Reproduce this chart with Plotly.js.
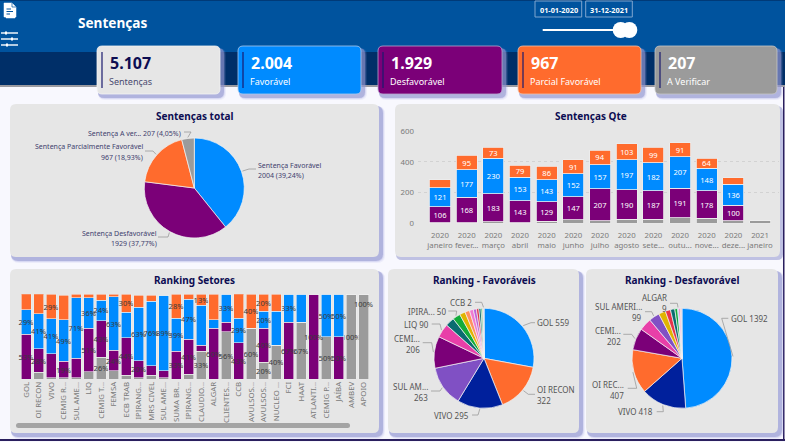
<!DOCTYPE html>
<html><head><meta charset="utf-8">
<script src="https://cdn.plot.ly/plotly-3.0.1.min.js"></script>
<style>html,body{margin:0;padding:0;background:#fff;overflow:hidden}#c{width:785px;height:442px}</style>
</head><body><div id="c"></div>
<script>
const W=785,H=442,FONT='"Noto Sans",sans-serif';
// ---------- data ----------
const cardValues=['5.107','2.004','1.929','967','207'];
const cardLabels=['Sentenças','Favorável','Desfavorável','Parcial Favorável','A Verificar'];
const totalLabels=['Sentença Favorável','Sentença Desfavorável','Sentença Parcialmente Favorável','Sentença A verificar'];
const totalValues=[2004,1929,967,207];

const months=['2020<br>janeiro','2020<br>fever...','2020<br>março','2020<br>abril','2020<br>maio','2020<br>junho','2020<br>julho','2020<br>agosto','2020<br>sete...','2020<br>outu...','2020<br>nove...','2020<br>deze...','2021<br>janeiro'];
const qtyGray=[3,2,10,2,12,24,17,27,26,36,32,18,16];
const qtyPurple=[106,168,183,143,129,147,207,190,187,191,178,100,0];
const qtyBlue=[121,177,230,153,143,152,157,197,182,207,148,136,2];
const qtyOrange=[52,95,73,79,86,91,94,103,99,91,64,42,0];
const qtyPurpleText=[106,168,183,143,129,147,207,190,187,191,178,100,''];
const qtyBlueText=[121,177,230,153,143,152,157,197,182,207,148,136,''];
const qtyOrangeText=['',95,73,79,86,91,94,103,99,91,64,'',''];

const sectors=['GOL','OI RECON','VIVO','CEMIG R...','SUL AME...','LIQ','CEMIG T...','FEMSA','ECB TRAB','IPIRANG...','MRS CIVEL','SUL AME...','SUMA BR...','IPIRANG...','CLAUDIO...','ALGAR','CLIENTES...','CCB','AVULSOS...','AVULSOS...','NUCLEO ...','FCI','HAAT','ATLANTI...','CEMIG P...','JAÍBA','AMBEV','APOIO'];
const secGray=[0,8,2,2,2,9,26,10,5,2,5,2,0,6,33,0,56,0,60,20,40,0,67,0,50,0,100,100];
const secPurple=[53,28,28,19,23,51,43,24,44,20,11,8,33,41,7,60,11,43,0,40,0,67,0,100,0,50,0,0];
const secBlue=[29,41,41,49,71,36,24,63,30,63,76,89,39,47,47,10,33,29,0,20,40,33,33,0,50,50,0,0];
const secOrange=[19,24,29,29,4,4,7,3,21,14,7,0,28,6,13,30,0,29,40,20,20,0,0,0,0,0,0,0];
const secGrayText=['','','','','','','26%','','','','','','','','33%','','56%','','60%','20%','40%','','67%','','50%','','100%',''];
const secPurpleText=['53%','28%','','19%','','51%','43%','24%','44%','20%','','','33%','41%','','60%','','43%','','40%','','67%','','100%','','50%','',''];
const secBlueText=['29%','41%','41%','49%','71%','36%','24%','63%','','63%','76%','89%','39%','47%','','','33%','29%','','20%','','33%','','','50%','50%','',''];
const secOrangeText=['19%','','29%','','','','','','30%','','','','28%','','13%','','','','40%','20%','','','','','','','',''];
const apoioLabel='100%';

const favLabels=['GOL','OI RECON','VIVO','SUL AM...','CEMI...','LIQ','b','IPIRA...','d','e','f','g','h','i','j','k','CCB','m'];
const favValues=[559,322,295,263,206,90,58,50,37,30,25,20,16,14,10,5,2,2];
const desLabels=['GOL','VIVO','OI REC...','CEMI...','e','SUL AMERI...','g','h','i','j','ALGAR','l','m','n'];
const desValues=[1392,418,407,202,115,99,64,48,40,26,9,16,9,6];
// ---------- colours ----------
const BLUE='#008bff',ORANGE='#ff6b2d',PURPLE='#7b0078',GRAY='#9b9b9b',NAVY='#0d0d52',PANEL='#e6e6e6';
const totalColors=[BLUE,PURPLE,ORANGE,GRAY];
const favColors=[BLUE,ORANGE,'#00209c','#8050c4',PURPLE,'#e83fa8','#0a6b70','#12ab3a','#e0b400','#ff9060','#f07ad0','#c060d8','#e0304a','#0f6a6a','#16b050','#ff8a30','#2fae50','#8a4fd0'];
const desColors=[BLUE,'#00209c',ORANGE,PURPLE,'#e83fa8','#8050c4','#e0b400','#e8344a','#0a6b70','#12ab3a','#18b8e0','#f07ad0','#ff9060','#b060c8'];

// ---------- pixel helpers ----------
const px=x=>x/W, py=y=>1-y/H;
const shapes=[],annotations=[];
function rect(x0,y0,x1,y1,fill,r,line,lw,op){
  r=r||0;
  const p=`M ${x0+r} ${y0} L ${x1-r} ${y0} Q ${x1} ${y0} ${x1} ${y0+r} L ${x1} ${y1-r} Q ${x1} ${y1} ${x1-r} ${y1} L ${x0+r} ${y1} Q ${x0} ${y1} ${x0} ${y1-r} L ${x0} ${y0+r} Q ${x0} ${y0} ${x0+r} ${y0} Z`;
  shapes.push({type:'path',xref:'x',yref:'y',path:p,fillcolor:fill,opacity:op==null?1:op,line:{color:line||'rgba(0,0,0,0)',width:lw||0},layer:'below'});
}
function poly(pts,color,w,layer){
  shapes.push({type:'path',xref:'x',yref:'y',path:'M '+pts.map(p=>p.join(' ')).join(' L '),line:{color,width:w},layer:layer||'above'});
}
function T(x,y,text,size,color,anchor,bold){
  annotations.push({xref:'paper',yref:'paper',x:px(x),y:py(y),text:bold?`<b>${text}</b>`:text,showarrow:false,xanchor:anchor||'left',yanchor:'middle',font:{family:FONT,size,color},align:anchor||'left',borderpad:0,borderwidth:0});
}
function shadowed(x0,y0,x1,y1,fill,r,line,strong){
  rect(x0+1,y0+2,x1+6,y1+6,'#9a9ee0',r+2,null,0,.12);
  rect(x0+1,y0+2,x1+5,y1+5,'#9a9ee0',r+2,null,0,.25);
  rect(x0+1,y0+2,x1+4,y1+4,'#9094cc',r+1,null,0,.55);
  rect(x0,y0,x1,y1,fill,r,line,line?.8:0);
}
// page background
rect(0,0,785,442,'#f8f8fe');
rect(0,0,785,52,'#00539e');
rect(0,0,785,1,'#003a78');
rect(0,52,785,85,'#002f68');
rect(0,85,785,87,'#9a9aa0');
rect(0,439,785,441,'#2a1f5e');
rect(783,87,784.5,441,'#2a1f5e');
// panels
const panels=[[10,104,379,257],[395,104,780,257],[10,269,379,433],[388,269,579,433],[586,269,778,433]];
panels.forEach((p,i)=>{
  if(i===1){rect(396,106,783,260,'#9094cc',6,null,0,.55);rect(p[0],p[1],p[2],p[3],PANEL,6);}
  else shadowed(p[0],p[1],p[2],p[3],PANEL,6);
});
// cards
const cards=[[97,220,PANEL,'#f2f2f2',NAVY,'#4a4a70'],[238,361,BLUE,'#a9c9ee','#fff','#fff'],[378,502,PURPLE,'#b9a5cf','#fff','#fff'],[518,641,ORANGE,'#f0c0a8','#fff','#fff'],[655,777,GRAY,'#c6c6c6','#fff','#fff']];
cards.forEach((c,i)=>{
  shadowed(c[0],46,c[1],94,c[2],5,c[3]);
  poly([[c[0]+5,52],[c[0]+5,88]],'#1a1a6e',1.2);
  T(c[0]+13,63.5,cardValues[i],16,c[4],'left',true);
  T(c[0]+12,81.5,cardLabels[i],9,c[5],'left');
});
// header
T(78,22,'Sentenças',13.6,'#fff','left',true);
// document icon
shapes.push({type:'path',xref:'x',yref:'y',path:'M 4 3 L 12 3 L 16 7 L 16 17 L 15 17 L 15 18 L 6 18 L 6 17 L 4 17 Z',fillcolor:'#fff',line:{color:'#fff',width:.5},layer:'above'});
[[6.5,9,11],[6.5,11.5,13],[6.5,14,10]].forEach(l=>poly([[l[0],l[1]],[l[2],l[1]]],'#00539e',1));
poly([[12,3],[12,7],[16,7]],'#00539e',.7);
// filter icon
[[33,6],[39,12],[45,7]].forEach(l=>{poly([[1,l[0]],[18,l[0]]],'#fff',1.4);poly([[l[1],l[0]-1.5],[l[1],l[0]+1.5]],'#fff',2);});
// date slider
rect(535,1,581.7,17,'rgba(0,0,0,0)',0,'#7fa6cf',1);
rect(585.7,1,632.3,17,'rgba(0,0,0,0)',0,'#7fa6cf',1);
T(558.5,10,'01-01-2020',7.3,'#fff','center',true);
T(609,10,'31-12-2021',7.3,'#fff','center',true);
poly([[542.7,30],[618,30]],'#fff',2);
[620.7,629.3].forEach(c=>shapes.push({type:'circle',xref:'x',yref:'y',x0:c-8,x1:c+8,y0:22,y1:38,fillcolor:'#fff',line:{width:0},layer:'above'}));
// scrollbar
rect(16,423,350,428,'#a4a4a4',2.5);
// titles
T(194,116,'Sentenças total',10,NAVY,'center',true);
T(591,116,'Sentenças Qte',10,NAVY,'center',true);
T(194,280,'Ranking Setores',10,NAVY,'center',true);
T(484,280,'Ranking - Favoráveis',10,NAVY,'center',true);
T(682,280,'Ranking - Desfavorável',10,NAVY,'center',true);

// ---------- pie labels ----------
function pieLabels(values,cx,cy,r,color,size,items){
  const tot=values.reduce((a,b)=>a+b,0);
  items.forEach(it=>{
    const before=values.slice(0,it.i).reduce((a,b)=>a+b,0);
    const a=(before+values[it.i]/2)/tot*2*Math.PI;
    const edge=[cx+(r+1)*Math.sin(a),cy-(r+1)*Math.cos(a)];
    poly([edge,it.elbow,it.end],'#9a9a9a',.8);
    it.lines.forEach((t,k)=>T(it.x,it.y+k*it.gap,t,size,color,it.anchor));
  });
}
pieLabels(totalValues,194.3,188,50,'#3e3e6e',7,[
 {i:0,elbow:[249,169],end:[256,169],x:257.5,y:165.7,gap:10,anchor:'left',lines:['Sentença Favorável','2004 (39,24%)']},
 {i:1,elbow:[168,237],end:[158,237],x:157,y:233,gap:10,anchor:'right',lines:['Sentença Desfavorável','1929 (37,77%)']},
 {i:2,elbow:[153,151],end:[145,151],x:143,y:147,gap:10,anchor:'right',lines:['Sentença Parcialmente Favorável','967 (18,93%)']},
 {i:3,elbow:[191,132],end:[184,132],x:181,y:133,gap:10,anchor:'right',lines:['Sentença A ver... 207 (4,05%)']}
]);
pieLabels(favValues,484,358.3,50,'#555',8,[
 {i:0,elbow:[531,322.7],end:[535,322.7],x:537,y:322.7,gap:11,anchor:'left',lines:['GOL 559']},
 {i:1,elbow:[528.3,394.3],end:[535,394.3],x:537,y:389.3,gap:11.4,anchor:'left',lines:['OI RECON','322']},
 {i:2,elbow:[478,415],end:[472,415],x:469.3,y:415,gap:11,anchor:'right',lines:['VIVO 295']},
 {i:3,elbow:[440,391],end:[431,391],x:428.3,y:386,gap:11.4,anchor:'right',lines:['SUL AM...','263']},
 {i:4,elbow:[431.7,342.7],end:[422.7,342.7],x:420,y:338.3,gap:10.7,anchor:'right',lines:['CEMI...','206']},
 {i:5,elbow:[440,324],end:[431.7,324],x:429.3,y:324.3,gap:11,anchor:'right',lines:['LIQ 90']},
 {i:7,elbow:[456.7,311],end:[448.3,311],x:446,y:311,gap:11,anchor:'right',lines:['IPIRA... 50']},
 {i:16,elbow:[481.7,302.3],end:[475,302.3],x:472.3,y:302.3,gap:11,anchor:'right',lines:['CCB 2']}
]);
pieLabels(desValues,682,358.3,50,'#555',8,[
 {i:0,elbow:[721.7,318.3],end:[728.3,318.3],x:730.7,y:318.3,gap:11,anchor:'left',lines:['GOL 1392']},
 {i:2,elbow:[636.7,388.3],end:[627.7,388.3],x:624.3,y:384,gap:11,anchor:'right',lines:['OI REC...','407']},
 {i:1,elbow:[663.3,411.7],end:[656.7,411.7],x:653.3,y:411.7,gap:11,anchor:'right',lines:['VIVO 418']},
 {i:3,elbow:[631.7,334.3],end:[623.3,334.3],x:620.5,y:330.7,gap:10.7,anchor:'right',lines:['CEMI...','202']},
 {i:5,elbow:[651.7,311.7],end:[645,311.7],x:641.7,y:306.3,gap:11.4,anchor:'right',lines:['SUL AMERI...','99']},
 {i:10,elbow:[677.3,303.3],end:[670,303.3],x:666.7,y:297.3,gap:11,anchor:'right',lines:['ALGAR','9']}
]);
annotations.push({xref:'x3',yref:'y3',x:27,y:89,text:apoioLabel,showarrow:false,font:{family:FONT,size:7.5,color:'#3a3a3a'}});

// ---------- traces ----------
const dom=(x0,x1,y0,y1)=>({x:[px(x0),px(x1)],y:[py(y1),py(y0)]});
function pie(labels,values,colors,cx,cy,r){
  return {type:'pie',labels,values,sort:false,direction:'clockwise',rotation:0,textinfo:'none',hoverinfo:'label+value',showlegend:false,
    marker:{colors,line:{color:'#f4f4f4',width:.7}},domain:dom(cx-r,cx+r,cy-r,cy+r)};
}
function qty(y,color,text){
  return {type:'bar',x:months.map((m,i)=>i),y,text,textposition:'inside',insidetextanchor:'middle',constraintext:'none',textangle:0,
    textfont:{family:FONT,size:7.6,color:'#fff'},marker:{color,line:{color:'#eeeeee',width:.8}},xaxis:'x2',yaxis:'y2',width:.79,showlegend:false,hoverinfo:'y'};
}
function sec(y,color,text){
  return {type:'bar',x:sectors.map((s,i)=>i),y,text,textposition:'inside',insidetextanchor:'middle',constraintext:'none',textangle:0,cliponaxis:false,
    textfont:{family:FONT,size:7.5,color:'#3a3a3a'},marker:{color,line:{color:'#eeeeee',width:.6}},xaxis:'x3',yaxis:'y3',width:.8,showlegend:false,hoverinfo:'y'};
}
const data=[
 {type:'scatter',x:[0],y:[0],xaxis:'x',yaxis:'y',mode:'none',showlegend:false,hoverinfo:'skip'},
 pie(totalLabels,totalValues,totalColors,194.3,188,50),
 pie(favLabels,favValues,favColors,484,358.3,50),
 pie(desLabels,desValues,desColors,682,358.3,50),
 qty(qtyGray,GRAY,qtyGray.map(()=>'')),qty(qtyPurple,PURPLE,qtyPurpleText),qty(qtyBlue,BLUE,qtyBlueText),qty(qtyOrange,ORANGE,qtyOrangeText),
 sec(secGray,GRAY,secGrayText),sec(secPurple,PURPLE,secPurpleText),sec(secBlue,BLUE,secBlueText),sec(secOrange,ORANGE,secOrangeText)
];
const tick={family:FONT,size:7.8,color:'#7a7a7a'};
const layout={
 width:W,height:H,margin:{l:0,r:0,t:0,b:0},paper_bgcolor:'#fff',plot_bgcolor:'rgba(0,0,0,0)',barmode:'stack',showlegend:false,
 shapes,annotations,font:{family:FONT},
 xaxis:{domain:[0,1],range:[0,W],visible:false,fixedrange:true},
 yaxis:{domain:[0,1],range:[H,0],visible:false,fixedrange:true},
 xaxis2:{domain:[px(418),px(779)],range:[-0.825,12.71],tickmode:'array',tickvals:months.map((m,i)=>i),ticktext:months,tickfont:tick,ticks:'',showgrid:false,zeroline:false,showline:false,anchor:'y2',automargin:false,tickangle:0,ticklabelstandoff:6},
 yaxis2:{domain:[py(223.3),py(131)],range:[0,600],tickvals:[0,200,400,600],tickfont:tick,ticks:'',gridcolor:'#d2d2d2',griddash:'dot',gridwidth:1,zeroline:false,showline:false,anchor:'x2',automargin:false,ticklabelstandoff:3},
 xaxis3:{domain:[px(16),px(373)],range:[(16-26)/12.5,(373-26)/12.5],tickmode:'array',tickvals:sectors.map((s,i)=>i),ticktext:sectors,tickangle:-90,tickfont:tick,ticks:'',showgrid:false,zeroline:false,showline:false,anchor:'y3',automargin:false},
 yaxis3:{domain:[py(379.3),py(294.3)],range:[0,100],visible:false,anchor:'x3',automargin:false}
};
Plotly.newPlot('c',data,layout,{displayModeBar:false,staticPlot:true});
</script></body></html>
